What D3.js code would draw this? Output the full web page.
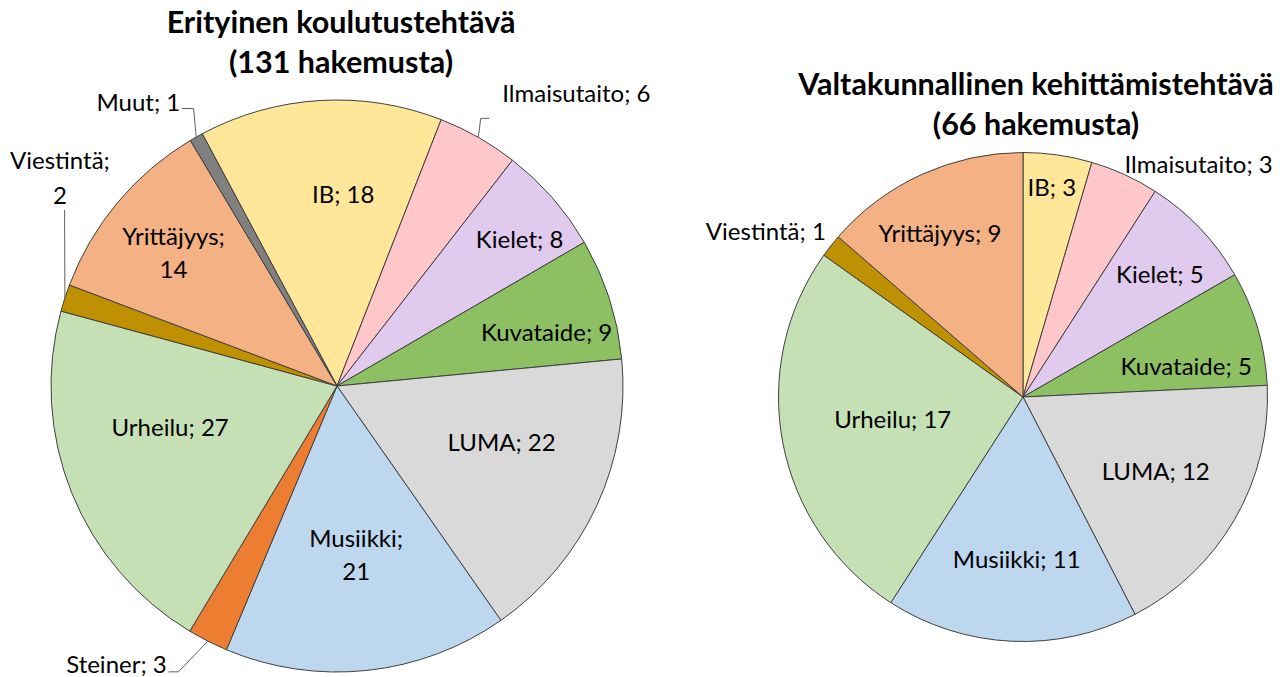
<!DOCTYPE html>
<html lang="fi">
<head>
<meta charset="UTF-8">
<title>Hakemukset</title>
<script src="https://d3js.org/d3.v7.min.js"></script>
<style>
  body { margin: 0; background: #fff; }
  svg text { font-family: Lato, "Open Sans", sans-serif; fill: #000; }
  .title { font-weight: bold; font-size: 30.5px; }
  .label { font-size: 24px; }
  .slice { stroke: #404040; stroke-width: 1; }
  .leader { fill: none; stroke: #606060; stroke-width: 1; }
</style>
</head>
<body>
<svg width="1283" height="677"></svg>
<script>
// --- data ---
const leftTitle = ["Erityinen koulutustehtävä", "(131 hakemusta)"];
const leftCategories = ["IB", "Ilmaisutaito", "Kielet", "Kuvataide", "LUMA", "Musiikki", "Steiner", "Urheilu", "Viestintä", "Yrittäjyys", "Muut"];
const leftValues = [18, 6, 8, 9, 22, 21, 3, 27, 2, 14, 1];

const rightTitle = ["Valtakunnallinen kehittämistehtävä", "(66 hakemusta)"];
const rightCategories = ["IB", "Ilmaisutaito", "Kielet", "Kuvataide", "LUMA", "Musiikki", "Urheilu", "Viestintä", "Yrittäjyys"];
const rightValues = [3, 3, 5, 5, 12, 11, 17, 1, 9];

const colors = {
  "IB": "#FFE699",
  "Ilmaisutaito": "#FFC7C9",
  "Kielet": "#E0CAEE",
  "Kuvataide": "#8CC063",
  "LUMA": "#D9D9D9",
  "Musiikki": "#BDD7EE",
  "Steiner": "#ED7D31",
  "Urheilu": "#C5E0B4",
  "Viestintä": "#BF9000",
  "Yrittäjyys": "#F4B183",
  "Muut": "#808080"
};

// label placement (Excel "best fit" look): inside = polar nudge, outside = offsets from slice edge
const leftLabels = {
  "IB":          { k: 0.675, da: 5.2 },
  "Ilmaisutaito":{ out: true, anchor: "start", tx: 24, ty: -45, leader: [[2.4, -19], [11, -19]] },
  "Kielet":      { k: 0.82, da: 2.3 },
  "Kuvataide":   { k: 0.757, da: 3.3 },
  "LUMA":        { k: 0.607, da: -6.3 },
  "Musiikki":    { k: 0.59, da: -0.4, wrap: true },
  "Steiner":     { out: true, anchor: "end", tx: -41, ty: 22, leader: [[-29.3, 30.7], [-39.3, 30.7]] },
  "Urheilu":     { k: 0.60, da: 8.4 },
  "Viestintä":   { out: true, anchor: "middle", tx: -5, ty: -121, wrap: true, gap: 35, leader: [[-0.3, -88]] },
  "Yrittäjyys":  { k: 0.74, da: -0.5, wrap: true },
  "Muut":        { out: true, anchor: "end", tx: -16, ty: -36, leader: [[-2.7, -28.5], [-14.3, -28.5]] }
};
const rightLabels = {
  "IB":          { k: 0.87, da: -0.4 },
  "Ilmaisutaito":{ out: true, anchor: "start", tx: 0, ty: -11 },
  "Kielet":      { k: 0.755, da: 1.5 },
  "Kuvataide":   { k: 0.68, da: 5.3 },
  "LUMA":        { k: 0.62, da: -1.1 },
  "Musiikki":    { k: 0.66, da: -0.5 },
  "Urheilu":     { k: 0.54, da: 1.6 },
  "Viestintä":   { out: true, anchor: "end", tx: -5, ty: -15 },
  "Yrittäjyys":  { k: 0.755, da: -2.2 }
};

const svg = d3.select("svg");
const rad = d => d * Math.PI / 180;

function drawPie(opts) {
  const { categories, values, title, labels, cx, cy, r, start, titleX, titleY } = opts;
  const rows = categories.map((c, i) => ({ name: c, value: values[i] }));

  svg.append("text")
    .attr("class", "title")
    .attr("x", titleX)
    .attr("y", titleY)
    .attr("text-anchor", "middle")
    .selectAll("tspan")
    .data(title)
    .join("tspan")
      .attr("x", titleX)
      .attr("dy", (d, i) => i === 0 ? 0 : 40)
      .attr("dominant-baseline", "central")
      .text(d => d);

  const pie = d3.pie()
    .sort(null)
    .value(d => d.value)
    .startAngle(rad(start))
    .endAngle(rad(start) + 2 * Math.PI);
  const arcs = pie(rows);
  const arc = d3.arc().innerRadius(0).outerRadius(r);

  const g = svg.append("g").attr("transform", `translate(${cx},${cy})`);

  g.selectAll("path")
    .data(arcs)
    .join("path")
      .attr("class", "slice")
      .attr("fill", d => colors[d.data.name])
      .attr("d", arc);

  const polar = (a, rr) => [rr * Math.sin(a), -rr * Math.cos(a)];

  arcs.forEach(d => {
    const L = labels[d.data.name];
    const mid = (d.startAngle + d.endAngle) / 2;
    const txt = `${d.data.name}; ${d.data.value}`;
    const lines = L.wrap ? [d.data.name + ";", String(d.data.value)] : [txt];
    const gap = L.gap || 33;
    let x, y;
    if (L.out) {
      const [ex, ey] = polar(mid, r);
      if (L.leader) {
        const pts = [[ex, ey]].concat(L.leader.map(p => [ex + p[0], ey + p[1]]));
        g.append("path").attr("class", "leader").attr("d", d3.line()(pts));
      }
      x = ex + L.tx;
      y = ey + L.ty;
    } else {
      [x, y] = polar(mid + rad(L.da), r * L.k);
    }
    const t = g.append("text")
      .attr("class", "label")
      .attr("text-anchor", L.anchor || "middle");
    lines.forEach((s, i) => {
      t.append("tspan")
        .attr("x", x)
        .attr("y", y + (i - (lines.length - 1) / 2) * gap)
        .attr("dominant-baseline", "central")
        .text(s);
    });
  });
}

drawPie({
  categories: leftCategories, values: leftValues, title: leftTitle, labels: leftLabels,
  cx: 337, cy: 386, r: 286, start: -28.1, titleX: 341, titleY: 21
});
drawPie({
  categories: rightCategories, values: rightValues, title: rightTitle, labels: rightLabels,
  cx: 1023, cy: 397, r: 244.5, start: 0, titleX: 1036, titleY: 83
});
</script>
</body>
</html>
